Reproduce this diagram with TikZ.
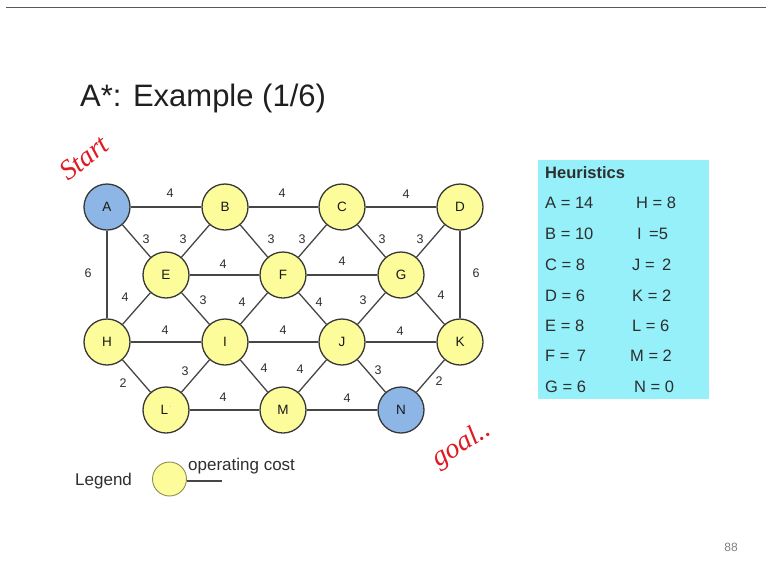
\documentclass[tikz,border=0pt]{standalone}
\usepackage{fontspec}
\setmainfont{Liberation Sans}
\newfontfamily\handfont{Liberation Serif}
\definecolor{nodeyellow}{RGB}{252,252,155}
\definecolor{nodeblue}{RGB}{141,182,230}
\definecolor{nodeborder}{RGB}{55,55,55}
\definecolor{edgegray}{RGB}{70,70,70}
\definecolor{labelgray}{RGB}{45,45,45}
\definecolor{heurcyan}{RGB}{150,240,250}
\definecolor{inkred}{RGB}{225,25,35}
\begin{document}
\begin{tikzpicture}[x=1pt,y=-1pt,
  gnode/.style={circle,draw=nodeborder,line width=1.3pt,fill=nodeyellow,minimum size=46pt,inner sep=0pt,font=\fontsize{13.5}{15}\selectfont,text=black!90},
  snode/.style={gnode,fill=nodeblue},
  edgeline/.style={draw=edgegray,line width=1.3pt},
  cost/.style={font=\fontsize{12.5}{14}\selectfont,text=labelgray,inner sep=0pt},
  heur/.style={font=\fontsize{16.5}{18}\selectfont,text=black!82,anchor=west,inner sep=0pt},
  hand/.style={font=\handfont\itshape\fontsize{28}{30}\selectfont,text=inkred,inner sep=0pt}]
\useasboundingbox (0,0) rectangle (766,576);
\fill[white] (0,0) rectangle (766,576);
% top rule
\coordinate (r1) at (6,7.5);
\coordinate (r2) at (766,7.5);
\draw[black!65,line width=1pt] (r1) -- (r2);
% title
\node[anchor=west,inner sep=0pt,font=\fontsize{31}{36}\selectfont,text=black!88] (title) at (80,98) {A*: Example (1/6)};
% nodes
\node[snode] (A) at (107,207) {A};
\node[gnode] (B) at (225,207) {B};
\node[gnode] (C) at (342,207) {C};
\node[gnode] (D) at (460,207) {D};
\node[gnode] (E) at (166,275) {E};
\node[gnode] (F) at (283,275) {F};
\node[gnode] (G) at (401,275) {G};
\node[gnode] (H) at (107,342) {H};
\node[gnode] (I) at (225,342) {I};
\node[gnode] (J) at (342,342) {J};
\node[gnode] (K) at (460,342) {K};
\node[gnode] (L) at (166,410) {L\raisebox{0.9ex}{\tiny\,$\cdot$}};
\node[gnode] (M) at (283,410) {M};
\node[snode] (N) at (401,410) {N};
% edges
\foreach \u/\v in {A/B,B/C,C/D,A/E,B/E,B/F,C/F,C/G,D/G,A/H,D/K,E/F,F/G,E/H,E/I,F/I,F/J,G/J,G/K,H/I,I/J,J/K,H/L,I/L,I/M,J/M,J/N,K/N,L/M,M/N}
  \path[edgeline] (\u) -- (\v);
% cost labels
\node[cost] (cAB) at (170,193) {4};
\node[cost] (cBC) at (282,193) {4};
\node[cost] (cCD) at (406,194) {4};
\node[cost] (cAE) at (146,239) {3};
\node[cost] (cBE) at (183,239) {3};
\node[cost] (cBF) at (271,239) {3};
\node[cost] (cCF) at (302,239) {3};
\node[cost] (cCG) at (382,239) {3};
\node[cost] (cDG) at (420,239) {3};
\node[cost] (cAH) at (88,273) {6};
\node[cost] (cDK) at (476,273) {6};
\node[cost] (cEF) at (223,264) {4};
\node[cost] (cFG) at (342,261) {4};
\node[cost] (cEH) at (125,297) {4};
\node[cost] (cEI) at (203,300) {3};
\node[cost] (cFI) at (242,302) {4};
\node[cost] (cFJ) at (319,302) {4};
\node[cost] (cGJ) at (363,300) {3};
\node[cost] (cGK) at (441,295) {4};
\node[cost] (cHI) at (165,330) {4};
\node[cost] (cIJ) at (283,330) {4};
\node[cost] (cJK) at (400,331) {4};
\node[cost] (cHL) at (123,383) {2};
\node[cost] (cIL) at (185,371) {3};
\node[cost] (cIM) at (264,368) {4};
\node[cost] (cJM) at (300,369) {4};
\node[cost] (cJN) at (378,370) {3};
\node[cost] (cKN) at (439,381) {2};
\node[cost] (cLM) at (223,397) {4};
\node[cost] (cMN) at (347,398) {4};
% heuristics box
\fill[heurcyan] (538,160) rectangle (709,399);
\node[heur,font=\bfseries\fontsize{16.5}{18}\selectfont] (hh) at (545,173) {Heuristics};
\node[heur] (hA) at (545,203) {A = 14};
\node[heur] (hB) at (545,234) {B = 10};
\node[heur] (hC) at (545,265) {C = 8};
\node[heur] (hD) at (545,296) {D = 6};
\node[heur] (hE) at (545,326) {E = 8};
\node[heur] (hF) at (545,356) {F = \,7};
\node[heur] (hG) at (545,387) {G = 6};
\node[heur] (hH) at (636,203) {H = 8};
\node[heur] (hI) at (637,234) {I \,=5};
\node[heur] (hJ) at (632,265) {J = \,2};
\node[heur] (hK) at (632,296) {K = 2};
\node[heur] (hL) at (632,326) {L = 6};
\node[heur] (hM) at (630,356) {M = 2};
\node[heur] (hN) at (634,387) {N = 0};
% legend
\node[heur,font=\fontsize{17}{19}\selectfont] (leg) at (75,481) {Legend};
\node[circle,draw=black!45!nodeyellow,line width=0.9pt,fill=nodeyellow,minimum size=34pt,inner sep=0pt] (lc) at (169.5,479) {};
\coordinate (lend) at (222,481);
\draw[edgegray,line width=1.1pt] (lc.east |- lend) -- (lend);
\node[heur,font=\fontsize{17}{19}\selectfont] (lt) at (188,466) {operating cost};
% page number
\node[font=\fontsize{12}{14}\selectfont,text=black!50,inner sep=0pt] (pg) at (731,547) {88};
% handwritten notes
\node[hand,rotate=38] (start) at (84,158) {Start};
\node[hand,rotate=32] (goal) at (462,445) {goal..};
\end{tikzpicture}
\end{document}
